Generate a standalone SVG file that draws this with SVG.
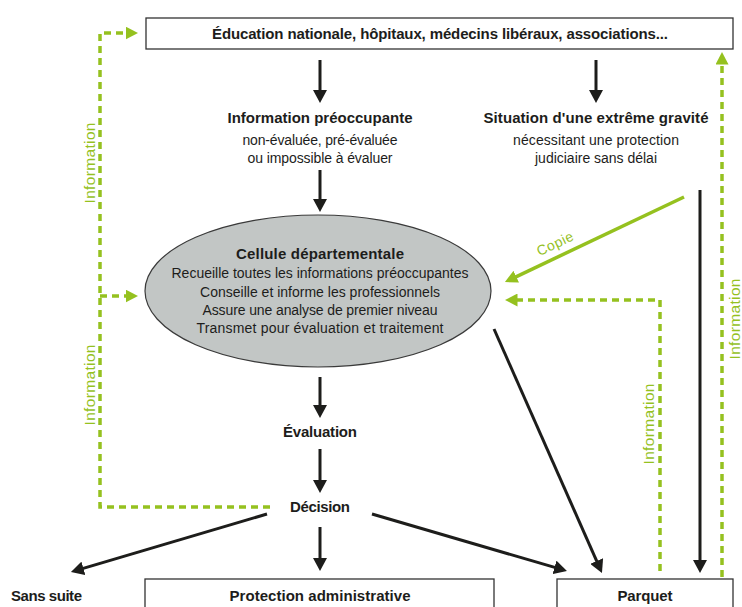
<svg xmlns="http://www.w3.org/2000/svg" width="742" height="607" viewBox="0 0 742 607">
<style>
text{font-family:"Liberation Sans",Arial,sans-serif;fill:#1d1d1b}
.h{font-size:15px;font-weight:bold;text-anchor:middle}
.b{font-size:14px;text-anchor:middle}
.g{font-size:15.5px;fill:#95c11f;text-anchor:middle}
.box{fill:#fff;stroke:#333;stroke-width:1.3}
.blk{stroke:#1d1d1b;stroke-width:3;fill:none;marker-end:url(#ab)}
.dash{stroke:#95c11f;stroke-width:3.5;fill:none;stroke-dasharray:7 5;marker-end:url(#ag)}
.grn{stroke:#95c11f;stroke-width:3.5;fill:none;marker-end:url(#ag)}
</style>
<defs>
<marker id="ab" markerUnits="userSpaceOnUse" markerWidth="13" markerHeight="14" refX="2" refY="7" orient="auto"><path d="M0,0 L13,7 L0,14 z" fill="#1d1d1b"/></marker>
<marker id="ag" markerUnits="userSpaceOnUse" markerWidth="13" markerHeight="13" refX="1.5" refY="6.5" orient="auto"><path d="M0,0 L12.5,6.5 L0,13 z" fill="#95c11f"/></marker>
</defs>
<rect width="742" height="607" fill="#fff"/>

<g id="connectors">
<line class="blk" x1="320" y1="60" x2="320" y2="92"/>
<line class="blk" x1="596" y1="60" x2="596" y2="92"/>
<line class="blk" x1="320" y1="170" x2="320" y2="201"/>
<line class="blk" x1="320" y1="377" x2="320" y2="407"/>
<line class="blk" x1="320" y1="449" x2="320" y2="482"/>
<line class="blk" x1="320" y1="527" x2="320" y2="560"/>
<line class="blk" x1="700" y1="190" x2="700" y2="562"/>
<line class="blk" x1="267" y1="514" x2="81.5" y2="568.9"/>
<line class="blk" x1="372" y1="514" x2="556.4" y2="567.9"/>
<line class="blk" x1="494" y1="329" x2="597.5" y2="562.9"/>
<line class="grn" x1="684" y1="197" x2="514.9" y2="277.3"/>
<path class="dash" d="M270,507 H100 V33 H127"/>
<path class="dash" d="M100,296 H127"/>
<path class="dash" d="M722,577 V63"/>
<path class="dash" d="M660,571 V300 H516"/>
<text class="g" transform="translate(95,163) rotate(-90)" textLength="81">Information</text>
<text class="g" transform="translate(95,385) rotate(-90)" textLength="81">Information</text>
<text class="g" transform="translate(654,424) rotate(-90)" textLength="81">Information</text>
<text class="g" transform="translate(740,319) rotate(-90)" textLength="81">Information</text>
<text class="g" style="font-size:14px" transform="translate(557,248) rotate(-25.4)" textLength="39">Copie</text>
</g>

<g id="acteurs">
<rect class="box" x="146" y="18" width="587" height="31"/>
<text class="h" x="440" y="39" textLength="456">Éducation nationale, hôpitaux, médecins libéraux, associations...</text>
</g>

<g id="information-preoccupante">
<text class="h" x="320" y="123" textLength="185">Information préoccupante</text>
<text class="b" x="320" y="145" textLength="155">non-évaluée, pré-évaluée</text>
<text class="b" x="320" y="163" textLength="145">ou impossible à évaluer</text>
</g>

<g id="situation-gravite">
<text class="h" x="596" y="123" textLength="225">Situation d'une extrême gravité</text>
<text class="b" x="596" y="145" textLength="166">nécessitant une protection</text>
<text class="b" x="596" y="163" textLength="122">judiciaire sans délai</text>
</g>

<g id="cellule">
<ellipse cx="318" cy="291" rx="173" ry="76" fill="#c2c6c5" stroke="#3a3a3a" stroke-width="1.2"/>
<text class="h" x="320" y="259" textLength="168">Cellule départementale</text>
<text class="b" x="320" y="278" textLength="297">Recueille toutes les informations préoccupantes</text>
<text class="b" x="320" y="297" textLength="240">Conseille et informe les professionnels</text>
<text class="b" x="320" y="315" textLength="235">Assure une analyse de premier niveau</text>
<text class="b" x="320" y="333" textLength="247">Transmet pour évaluation et traitement</text>
</g>

<g id="evaluation">
<text class="h" x="320" y="437" textLength="74">Évaluation</text>
</g>

<g id="decision">
<text class="h" x="320" y="512" textLength="60">Décision</text>
</g>

<g id="sans-suite">
<text class="h" x="46.5" y="601" textLength="71">Sans suite</text>
</g>

<g id="protection-administrative">
<rect class="box" x="145" y="579" width="349" height="40"/>
<text class="h" x="320" y="601" textLength="181">Protection administrative</text>
</g>

<g id="parquet">
<rect class="box" x="557" y="579" width="176" height="40"/>
<text class="h" x="645" y="601" textLength="55">Parquet</text>
</g>
</svg>
